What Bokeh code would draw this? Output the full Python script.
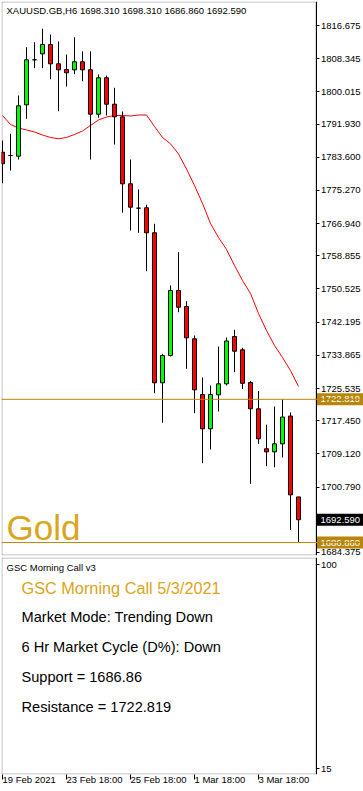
from bokeh.plotting import figure
from bokeh.models import (Range1d, FixedTicker, Label, Span, ColumnDataSource,
                          NumeralTickFormatter, BoxAnnotation, LinearAxis)
from bokeh.layouts import column
from bokeh.embed import file_html
from bokeh.resources import INLINE

# ---------------- data ----------------
SYMBOL = "XAUUSD.GB,H6"
INSTRUMENT = "Gold"
OPEN = [1784.86, 1784.04, 1783.86, 1796.76, 1808.06, 1809.57, 1811.91, 1807.06, 1805.63, 1805.55,
        1807.56, 1805.55, 1794.41, 1803.55, 1796.92, 1793.75, 1776.93, 1770.81, 1770.91, 1764.63,
        1726.97, 1733.82, 1750.14, 1746.12, 1738.01, 1724.03, 1715.42, 1723.95, 1726.71, 1738.59,
        1735.25, 1727.04, 1720.44, 1710.40, 1709.64, 1711.65, 1718.63, 1698.31]
HIGH = [1787.80, 1789.49, 1799.10, 1811.23, 1812.48, 1815.85, 1814.42, 1812.66, 1809.40, 1813.74,
        1810.22, 1810.22, 1804.37, 1804.12, 1801.03, 1795.08, 1783.03, 1775.50, 1771.66, 1766.89,
        1734.25, 1751.40, 1759.76, 1747.46, 1738.84, 1728.30, 1726.29, 1736.08, 1738.34, 1740.27,
        1735.76, 1727.42, 1724.91, 1716.45, 1721.02, 1722.82, 1719.51, 1698.31]
LOW = [1777.08, 1780.27, 1783.03, 1793.25, 1805.95, 1805.95, 1803.19, 1795.16, 1801.36, 1804.45,
       1802.69, 1783.03, 1793.50, 1794.08, 1786.80, 1769.65, 1765.21, 1764.63, 1754.99, 1724.36,
       1716.93, 1733.57, 1744.69, 1730.49, 1719.34, 1706.79, 1710.22, 1719.76, 1726.29, 1729.63,
       1725.41, 1701.61, 1711.65, 1706.03, 1705.78, 1708.21, 1690.01, 1686.86]
CLOSE = [1781.95, 1784.04, 1796.51, 1808.06, 1808.06, 1811.91, 1807.06, 1805.55, 1804.80, 1807.56,
         1805.55, 1794.41, 1803.55, 1796.92, 1793.75, 1776.93, 1771.06, 1770.81, 1764.63, 1726.97,
         1733.82, 1750.14, 1745.95, 1738.27, 1725.21, 1715.42, 1724.03, 1726.71, 1737.46, 1734.90,
         1726.84, 1720.44, 1712.91, 1709.64, 1711.65, 1718.38, 1698.84, 1692.59]
MA = [1794.08, 1791.82, 1790.94, 1790.44, 1789.94, 1789.18, 1788.56, 1788.23, 1788.56, 1789.31,
      1790.19, 1791.57, 1792.95, 1793.70, 1794.08, 1794.08, 1793.95, 1794.20, 1794.20, 1791.32,
      1788.56, 1786.97, 1784.41, 1780.65, 1776.50, 1771.99, 1766.96, 1763.45, 1760.44, 1756.42,
      1752.65, 1749.39, 1744.37, 1740.10, 1736.33, 1733.32, 1730.06, 1726.04]
PRICE_TICKS = [1816.675, 1808.345, 1800.015, 1791.930, 1783.600, 1775.270, 1766.940, 1758.855,
               1750.525, 1742.195, 1733.865, 1725.535, 1717.450, 1709.120, 1700.790, 1684.375]
DATE_TICK_INDEX = [0, 8, 16, 24, 32]
DATE_LABELS = ["19 Feb 2021", "23 Feb 18:00", "25 Feb 18:00", "1 Mar 18:00", "3 Mar 18:00"]
RESISTANCE = 1722.819
SUPPORT = 1686.86
OSC_TICKS = [15, 100]
INDICATOR_NAME = "GSC Morning Call v3"
INFO_TITLE = "GSC Morning Call 5/3/2021"
INFO_LINES = ["Market Mode: Trending Down", "6 Hr Market Cycle (D%): Down",
              "Support = 1686.86", "Resistance = 1722.819"]

# ---------------- layout constants ----------------
BAR_PX = 8.0
LEFT = 1
FRAME_W = 362
X_START = -0.125
X_END = X_START + FRAME_W / BAR_PX
AXIS_X = X_START + 314.5 / BAR_PX
MAIN_TOP = 1
MAIN_H = 554
Y_TOP = 1822.701
Y_BOT = 1683.609
PX_PRICE = MAIN_H / (Y_TOP - Y_BOT)
LOW_TOP = 557
LOW_H = 217
OSC_TOP = 102.917
OSC_BOT = 12.5
PX_OSC = LOW_H / (OSC_TOP - OSC_BOT)

SMALL_FONT = "Liberation Sans"
SMALL_SIZE = "9.5px"
TEXT_FONT = "Liberation Sans"
GOLD_TEXT = "#DAA520"
GOLD_LINE = "#B8860B"


def px_x(page_x):
    return X_START + (page_x - LEFT) / BAR_PX


def px_main_y(page_y):
    return Y_TOP - (page_y - MAIN_TOP) / PX_PRICE


def px_low_y(page_y):
    return OSC_TOP - (page_y - LOW_TOP) / PX_OSC


n = len(OPEN)
idx = list(range(n))
colors = ["#FF0000" if c < o else "#00FF00" for o, c in zip(OPEN, CLOSE)]
src = ColumnDataSource(dict(x=idx, high=HIGH, low=LOW,
                            top=[max(o, c) for o, c in zip(OPEN, CLOSE)],
                            bottom=[min(o, c) for o, c in zip(OPEN, CLOSE)],
                            color=colors, ma=MA))

x_range = Range1d(X_START, X_END)

# ---------------- main chart ----------------
p1 = figure(frame_width=FRAME_W, frame_height=MAIN_H, x_range=x_range,
            y_range=Range1d(Y_BOT, Y_TOP), output_backend="svg", toolbar_location=None,
            x_axis_location=None, y_axis_location=None,
            min_border_left=LEFT, min_border_right=0, min_border_top=MAIN_TOP,
            min_border_bottom=1)
p1.grid.visible = False
p1.outline_line_color = None
p1.background_fill_color = "white"
p1.border_fill_color = "white"

ya = LinearAxis(fixed_location=AXIS_X, ticker=FixedTicker(ticks=PRICE_TICKS),
                formatter=NumeralTickFormatter(format="0.000"))
ya.axis_line_color = "black"
ya.major_tick_out = 3
ya.major_tick_in = 0
ya.minor_tick_line_color = None
ya.major_label_standoff = 2
ya.major_label_text_font = SMALL_FONT
ya.major_label_text_font_size = SMALL_SIZE
ya.major_label_text_color = "black"
p1.add_layout(ya, "right")

p1.add_layout(BoxAnnotation(left=px_x(LEFT + 0.5), right=AXIS_X,
                            top=px_main_y(MAIN_TOP + 0.5), bottom=px_main_y(554.5),
                            fill_color=None, line_color="black", line_width=1))

p1.add_layout(Span(location=RESISTANCE, dimension="width", line_color=GOLD_LINE, line_width=1))
p1.add_layout(Span(location=SUPPORT, dimension="width", line_color=GOLD_LINE, line_width=1))

p1.line("x", "ma", source=src, line_color="#FF0000", line_width=1)
p1.segment("x", "high", "x", "low", source=src, line_color="black", line_width=1)
p1.vbar(x="x", top="top", bottom="bottom", width=0.5, source=src,
        fill_color="color", line_color="black", line_width=1)

title_txt = f"{SYMBOL}  {OPEN[-1]:.3f} {HIGH[-1]:.3f} {LOW[-1]:.3f} {CLOSE[-1]:.3f}"
p1.add_layout(Label(x=px_x(6), y=px_main_y(9.7), text=title_txt, text_align="left",
                    text_baseline="middle", text_font=SMALL_FONT, text_font_size=SMALL_SIZE,
                    text_color="black"))
p1.add_layout(Label(x=px_x(6), y=px_main_y(527), text=INSTRUMENT, text_align="left",
                    text_baseline="middle", text_font=TEXT_FONT,
                    text_font_size="35px", text_color=GOLD_TEXT))

# price tags on the price scale
tag_prices = [RESISTANCE, CLOSE[-1], SUPPORT]
tags = ColumnDataSource(dict(price=tag_prices, label=[f"{v:.3f}" for v in tag_prices],
                             bg=[GOLD_LINE, "black", GOLD_LINE]))
p1.rect(x=px_x(339.5), y="price", width=47, height=12, width_units="screen",
        height_units="screen", fill_color="bg", line_color=None, source=tags)
p1.text(x=px_x(320), y="price", text="label", source=tags, text_align="left",
        text_baseline="middle", text_font={"value": SMALL_FONT},
        text_font_size={"value": SMALL_SIZE}, text_color="white")

# ---------------- indicator panel ----------------
p2 = figure(frame_width=FRAME_W, frame_height=LOW_H, x_range=x_range,
            y_range=Range1d(OSC_BOT, OSC_TOP), output_backend="svg", toolbar_location=None,
            x_axis_location="below", y_axis_location=None,
            min_border_left=LEFT, min_border_right=0, min_border_top=1, min_border_bottom=0)
p2.grid.visible = False
p2.outline_line_color = None
p2.background_fill_color = "white"
p2.border_fill_color = "white"

ya2 = LinearAxis(fixed_location=AXIS_X, ticker=FixedTicker(ticks=OSC_TICKS))
ya2.axis_line_color = "black"
ya2.major_tick_out = 3
ya2.major_tick_in = 0
ya2.minor_tick_line_color = None
ya2.major_label_standoff = 2
ya2.major_label_text_font = SMALL_FONT
ya2.major_label_text_font_size = SMALL_SIZE
ya2.major_label_text_color = "black"
p2.add_layout(ya2, "right")

p2.add_layout(BoxAnnotation(left=px_x(LEFT + 0.5), right=AXIS_X,
                            top=px_low_y(LOW_TOP + 0.5), bottom=px_low_y(773.5),
                            fill_color=None, line_color="black", line_width=1))

xa = p2.xaxis[0]
xa.ticker = FixedTicker(ticks=DATE_TICK_INDEX)
xa.major_label_overrides = {t: lab for t, lab in zip(DATE_TICK_INDEX, DATE_LABELS)}
xa.major_label_orientation = -1e-6
xa.axis_line_color = None
xa.major_tick_out = 5
xa.major_tick_in = 0
xa.minor_tick_line_color = None
xa.major_label_standoff = 0
xa.major_label_text_font = SMALL_FONT
xa.major_label_text_font_size = SMALL_SIZE
xa.major_label_text_color = "black"

p2.add_layout(Label(x=px_x(6), y=px_low_y(566.7), text=INDICATOR_NAME, text_align="left",
                    text_baseline="middle", text_font=SMALL_FONT, text_font_size=SMALL_SIZE,
                    text_color="black"))
p2.add_layout(Label(x=px_x(21), y=px_low_y(587), text=INFO_TITLE, text_align="left",
                    text_baseline="middle", text_font=TEXT_FONT, text_font_size="16.3px",
                    text_color=GOLD_TEXT))
for k, line in enumerate(INFO_LINES):
    p2.add_layout(Label(x=px_x(21), y=px_low_y(616.8 + 30 * k - (0.8 if k == 3 else 0)),
                        text=line, text_align="left", text_baseline="middle",
                        text_font=TEXT_FONT, text_font_size="14.6px", text_color="black"))

layout = column(p1, p2, spacing=0)
open("out.html", "w").write(file_html(layout, INLINE))
